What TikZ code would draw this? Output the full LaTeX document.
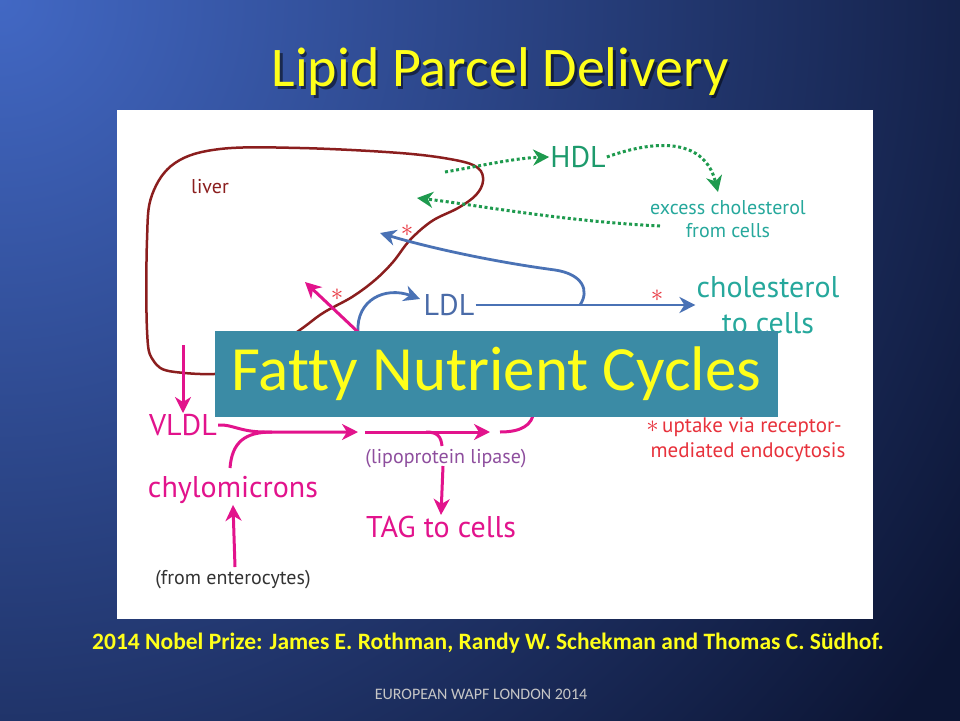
\documentclass[tikz,border=0pt]{standalone}
\usepackage{fontspec}
\setmainfont{PT Sans}
\newfontfamily\slidefont[Ligatures=NoCommon]{Carlito}
\usetikzlibrary{arrows.meta,positioning,calc}
\definecolor{bgdark}{HTML}{0C1534}
\definecolor{bglight}{HTML}{4268C4}
\definecolor{slideyellow}{HTML}{FFFF1A}
\definecolor{boxteal}{HTML}{3B8BA5}
\definecolor{liverred}{HTML}{8B1E1E}
\definecolor{hdlgreen}{HTML}{1E9A4E}
\definecolor{hdltext}{HTML}{1D9A6C}
\definecolor{cholteal}{HTML}{26A89C}
\definecolor{ldlblue}{HTML}{4A72B5}
\definecolor{ldltext}{HTML}{4A6BA8}
\definecolor{tagpink}{HTML}{E2138C}
\definecolor{lplpurple}{HTML}{8E4E9E}
\definecolor{starred}{HTML}{E8323C}
\tikzset{
  % Base styles
  slide base/.style={
    x=1pt, y=-1pt,
    every node/.style={inner sep=1pt},
  },
  % Slide texts
  slide title/.style={font=\slidefont\fontsize{56}{60}\selectfont, text=slideyellow},
  prize line/.style={font=\slidefont\bfseries\fontsize{23.5}{26}\selectfont, text=slideyellow},
  footer line/.style={font=\slidefont\fontsize{16}{18}\selectfont, text=gray!45},
  cycles box/.style={fill=boxteal, text=slideyellow, minimum width=563pt, minimum height=86pt,
    inner sep=0pt, font=\slidefont\fontsize{63}{66}\selectfont},
  % Diagram labels
  big label/.style={font=\fontsize{30}{36}\selectfont, align=center},
  small label/.style={font=\fontsize{20}{23}\selectfont, align=center},
  uptake star/.style={text=starred, font=\fontsize{38}{38}\selectfont, inner sep=0pt},
  % Flows
  liver line/.style={draw=liverred, line width=2.5pt},
  hdl flow/.style={draw=hdlgreen, line width=3pt, dash pattern=on 3pt off 2.6pt,
    -{Stealth[length=16pt, width=16pt, inset=5pt]}},
  ldl flow/.style={draw=ldlblue, line width=2.8pt,
    -{Stealth[length=16pt, width=16pt, inset=5pt]}},
  tag flow/.style={draw=tagpink, line width=3pt,
    -{Stealth[length=16pt, width=16pt, inset=5pt]}},
}
\newcommand{\redstar}{{\fontsize{32}{20}\selectfont$\ast$}}

\begin{document}
\begin{tikzpicture}[slide base]
\useasboundingbox (0,0) rectangle (960,720);

% Background
\begin{scope}
  \clip (-4,-4) rectangle (964,724);
  \fill[bgdark] (-4,-4) rectangle (964,724);
  \shade[inner color=bglight, outer color=bgdark] (0,0) circle (1150);
\end{scope}

% Title
\node[slide title, text=black, opacity=0.5] (titleshadow) at (502.5,74.5) {Lipid Parcel Delivery};
\node[slide title] (title) at (500,72) {Lipid Parcel Delivery};

% White panel
\fill[white] (117,110) rectangle (873,619);

% Liver
\draw[liver line] plot[smooth cycle, tension=0.6] coordinates {
  (297,332) (323,313) (352,297) (375,280) (393,262) (410,240) (432,221)
  (458,208) (476,195) (483,181) (478,168) (455,160) (400,153) (300,148)
  (220,149) (175,163) (152,195) (147,240) (147,330) (153,360) (175,372)
  (240,370)};
\node[small label, text=liverred] (liverlbl) at (210,187) {liver};

% HDL cycle
\node[big label, text=hdltext] (hdl) at (578,157) {HDL};
\node[small label, text=cholteal] (excess) at (728,219) {excess cholesterol\\from cells};
\coordinate (hdlout) at (445,172);
\coordinate (exctip) at (718,192);
\coordinate (excout) at (660,226);
\coordinate (hdlin) at (417,198);
\draw[hdl flow] (hdlout) .. controls (480,166) and (515,158) .. (hdl.west);
\draw[hdl flow] (hdl.east) .. controls (660,138) and (705,140) .. (exctip);
\draw[hdl flow] (excout) .. controls (560,221) and (470,204) .. (hdlin);

% LDL cycle
\node[big label, text=ldltext] (ldl) at (449,305) {LDL};
\node[big label, text=cholteal] (chol) at (768,305) {cholesterol\\to cells};
\coordinate (ldlsplit) at (580,305);
\coordinate (ldlback) at (380,233);
\coordinate (ldlfrom) at (358,332);
\coordinate (ldltip) at (420,299);
\draw[ldl flow] (ldl.east) -- (chol.west);
\draw[ldl flow] (ldlsplit) .. controls (590,290) and (582,274) .. (555,270)
  .. controls (495,262) and (430,248) .. (ldlback);
\draw[ldl flow] (ldlfrom) .. controls (356,300) and (385,286) .. (ldltip);
\node[uptake star] (starA) at (407,231) {$\ast$};
\node[uptake star] (starC) at (657,296) {$\ast$};

% TAG cycle
\node[big label, text=tagpink] (vldl) at (183,425) {VLDL};
\node[big label, text=tagpink] (chylo) at (233,490) {chylomicrons};
\node[small label, text=black!80] (entero) at (233,580) {(from enterocytes)};
\node[small label, text=lplpurple] (lpl) at (446,459) {(lipoprotein lipase)};
\node[big label, text=tagpink] (tag) at (441,527) {TAG to cells};
\coordinate (liverout) at (183,345);
\coordinate (remnant) at (358,332);
\coordinate (remtip) at (305,282);
\coordinate (lpl1) at (358,432);
\coordinate (lpl2) at (365,432);
\coordinate (lpl2tip) at (490,432);
\coordinate (lpl3) at (500,432);
\coordinate (lpl3end) at (534,410);
\coordinate (chylout) at (230,468);
\coordinate (enteout) at (235,567);
\coordinate (tagfrom) at (443,466);
\draw[tag flow] (liverout) -- (vldl.north);
\draw[tag flow] (remnant) -- (remtip);
\node[uptake star] (starB) at (337,295) {$\ast$};
\draw[tag flow] (vldl.east) .. controls (232,424) and (240,432) .. (265,432) -- (lpl1);
\draw[draw=tagpink, line width=3pt] (chylout) .. controls (232,442) and (245,432) .. (272,432);
\draw[tag flow] (enteout) -- (chylo.south);
\draw[tag flow] (lpl2) -- (lpl2tip);
\draw[draw=tagpink, line width=3pt] (426,432) .. controls (438,432) and (441,437) .. (442,446);
\draw[tag flow] (tagfrom) -- (tag.north);
\draw[draw=tagpink, line width=3pt] (lpl3) .. controls (520,432) and (533,426) .. (lpl3end);

% Uptake note
\node[small label, text=starred, font=\fontsize{21}{25}\selectfont] (uptake) at (744,440)
  {\redstar\,uptake via receptor-\\\hspace*{8pt}mediated endocytosis};

% Overlay box
\node[cycles box] (fatty) at (496.5,374) {Fatty Nutrient Cycles};

% Credits
\node[prize line] (prize) at (488,643) {2014 Nobel Prize: James E. Rothman, Randy W. Schekman and Thomas C. Südhof.};
\node[footer line] (footer) at (481,694) {EUROPEAN WAPF LONDON 2014};
\end{tikzpicture}
\end{document}
